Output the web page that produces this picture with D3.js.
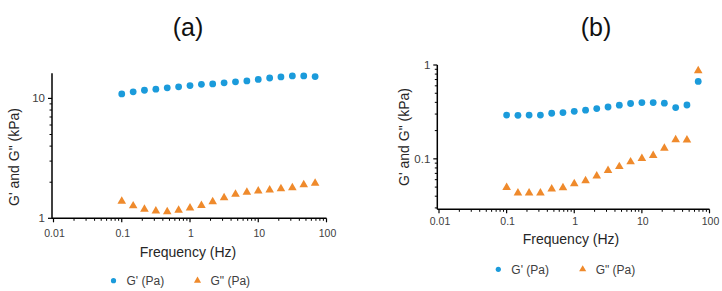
<!DOCTYPE html>
<html>
<head>
<meta charset="utf-8">
<script src="https://cdn.jsdelivr.net/npm/d3@7"></script>
<style>
  html, body { margin: 0; padding: 0; background: #fff; }
  svg { display: block; font-family: "Liberation Sans", Arial, sans-serif; }
</style>
</head>
<body>
<svg id="chart" width="722" height="291"></svg>
<script>
// ---- Data ----
const frequency = [0.1, 0.147, 0.215, 0.316, 0.464, 0.681, 1, 1.47, 2.15, 3.16, 4.64, 6.81, 10, 14.7, 21.5, 31.6, 46.4, 68.1];
const gPrimeA = [10.9, 11.35, 11.7, 11.95, 12.25, 12.5, 12.8, 13.1, 13.2, 13.5, 13.75, 14.0, 14.4, 14.8, 15.1, 15.4, 15.4, 15.2];
const gDoublePrimeA = [1.39, 1.27, 1.19, 1.15, 1.135, 1.166, 1.22, 1.28, 1.375, 1.485, 1.585, 1.65, 1.69, 1.72, 1.765, 1.8, 1.905, 1.96];
const gPrimeB = [0.293, 0.291, 0.293, 0.293, 0.306, 0.311, 0.321, 0.33, 0.343, 0.357, 0.373, 0.389, 0.398, 0.398, 0.392, 0.352, 0.375, 0.669];
const gDoublePrimeB = [0.0496, 0.0432, 0.0432, 0.0432, 0.0477, 0.0493, 0.0544, 0.0585, 0.0657, 0.075, 0.0827, 0.0929, 0.1008, 0.1085, 0.13, 0.16, 0.159, 0.869];
const xTickValues = [0.01, 0.1, 1, 10, 100];
const xTickLabels = ["0.01", "0.1", "1", "10", "100"];
const yTickValuesA = [1, 10];
const yTickLabelsA = ["1", "10"];
const yTickValuesB = [0.1, 1];
const yTickLabelsB = ["0.1", "1"];
const panelTitles = ["(a)", "(b)"];
const seriesNames = ["G' (Pa)", "G\" (Pa)"];
const xAxisTitle = "Frequency (Hz)";
const yAxisTitle = "G' and G\" (kPa)";

const blue = "#1b9bdb";
const orange = "#ef8a2c";

const svg = d3.select("#chart");

function minorTicks(lo, hi) {
  const out = [];
  const e0 = Math.floor(Math.log10(lo)), e1 = Math.ceil(Math.log10(hi));
  for (let e = e0; e <= e1; e++) {
    for (let k = 2; k <= 9; k++) {
      const v = k * Math.pow(10, e);
      if (v >= lo * 0.999 && v <= hi * 1.001) out.push(v);
    }
  }
  return out;
}

function panel(cfg) {
  const g = svg.append("g");
  const x = d3.scaleLog().domain([0.01, 100]).range(cfg.xRange);
  const y = d3.scaleLog().domain(cfg.yDomain).range(cfg.yRange);
  const x0 = cfg.axisX, yb = cfg.yRange[0], yt = cfg.yRange[1];

  // title
  g.append("text").attr("x", cfg.titleX).attr("y", cfg.titleY)
    .attr("text-anchor", "middle").attr("font-size", 25).attr("fill", "#111")
    .text(cfg.title);

  // x axis
  const xa = g.append("g").attr("transform", `translate(0,${yb})`);
  xa.append("line").attr("x1", x0).attr("x2", cfg.xRange[1]).attr("y1", 0).attr("y2", 0)
    .attr("stroke", "#000").attr("stroke-width", 1.5);
  xa.selectAll(".mn").data(minorTicks(0.01, 100).filter(v => x(v) <= cfg.xRange[1] + 0.5)).enter().append("line")
    .attr("x1", d => x(d)).attr("x2", d => x(d)).attr("y1", 0).attr("y2", 2.5)
    .attr("stroke", "#000").attr("stroke-width", 1);
  xa.selectAll(".mj").data(xTickValues).enter().append("line")
    .attr("x1", d => x(d)).attr("x2", d => x(d)).attr("y1", 0).attr("y2", 4)
    .attr("stroke", "#000").attr("stroke-width", 1.2);
  xa.selectAll(".lb").data(xTickValues).enter().append("text")
    .attr("x", d => x(d) + 1).attr("y", cfg.xLabelDy)
    .attr("text-anchor", "middle").attr("font-size", 10.5).attr("fill", "#404040")
    .text((d, i) => xTickLabels[i]);

  // y axis
  const ya = g.append("g").attr("transform", `translate(${x0},0)`);
  ya.append("line").attr("x1", 0).attr("x2", 0).attr("y1", yb).attr("y2", yt)
    .attr("stroke", "#000").attr("stroke-width", 1.5);
  ya.selectAll(".mn").data(minorTicks(cfg.yDomain[0], cfg.yDomain[1]).filter(v => !cfg.yTicks.includes(v))).enter().append("line")
    .attr("y1", d => y(d)).attr("y2", d => y(d)).attr("x1", 0).attr("x2", -2.5)
    .attr("stroke", "#000").attr("stroke-width", 1);
  ya.selectAll(".mj").data(cfg.yTicks).enter().append("line")
    .attr("y1", d => y(d)).attr("y2", d => y(d)).attr("x1", 0).attr("x2", -4)
    .attr("stroke", "#000").attr("stroke-width", 1.2);
  ya.selectAll(".lb").data(cfg.yTicks).enter().append("text")
    .attr("x", -7).attr("y", d => y(d)).attr("dy", "0.35em")
    .attr("text-anchor", "end").attr("font-size", 11.5).attr("fill", "#404040")
    .text((d, i) => cfg.yLabels[i]);

  // axis titles
  g.append("text").attr("x", cfg.xTitleX).attr("y", cfg.xTitleY)
    .attr("text-anchor", "middle").attr("font-size", 14).attr("fill", "#262626")
    .text(xAxisTitle);
  g.append("text").attr("transform", `translate(${cfg.yTitleX},${cfg.yTitleY}) rotate(-90)`)
    .attr("text-anchor", "middle").attr("font-size", 14).attr("fill", "#262626")
    .text(yAxisTitle);

  // data
  const tri = d3.symbol().type(d3.symbolTriangle).size(32);
  g.selectAll(".gpp").data(cfg.gpp).enter().append("path")
    .attr("d", tri)
    .attr("transform", (d, i) => `translate(${x(frequency[i])},${y(d)})`)
    .attr("fill", orange);
  g.selectAll(".gp").data(cfg.gp).enter().append("circle")
    .attr("cx", (d, i) => x(frequency[i])).attr("cy", d => y(d)).attr("r", 3.4)
    .attr("fill", blue);

  // legend
  const lg = g.append("g").attr("transform", `translate(0,${cfg.legY})`);
  lg.append("circle").attr("cx", cfg.legX1).attr("cy", 0).attr("r", 2.6).attr("fill", blue);
  lg.append("text").attr("x", cfg.legX1 + 13).attr("y", 0).attr("dy", "0.35em")
    .attr("font-size", 12).attr("fill", "#404040").text(seriesNames[0]);
  lg.append("path").attr("d", d3.symbol().type(d3.symbolTriangle).size(22))
    .attr("transform", `translate(${cfg.legX2},0)`).attr("fill", orange);
  lg.append("text").attr("x", cfg.legX2 + 13).attr("y", 0).attr("dy", "0.35em")
    .attr("font-size", 12).attr("fill", "#404040").text(seriesNames[1]);
}

panel({
  title: panelTitles[0], titleX: 188, titleY: 36,
  xRange: [53.5, 326.5], axisX: 52,
  yDomain: [1, 16.2], yRange: [218.3, 73.3], yTicks: yTickValuesA, yLabels: yTickLabelsA,
  xLabelDy: 19, xTitleX: 188, xTitleY: 256.5, yTitleX: 19, yTitleY: 157,
  gp: gPrimeA, gpp: gDoublePrimeA,
  legY: 280.7, legX1: 113.5, legX2: 197.5
});

panel({
  title: panelTitles[1], titleX: 596, titleY: 36,
  xRange: [439, 709.5], axisX: 437.3,
  yDomain: [0.029, 1], yRange: [209.3, 65], yTicks: yTickValuesB, yLabels: yTickLabelsB,
  xLabelDy: 16, xTitleX: 571, xTitleY: 244, yTitleX: 409, yTitleY: 137,
  gp: gPrimeB, gpp: gDoublePrimeB,
  legY: 269.3, legX1: 498.3, legX2: 582.7
});
</script>
</body>
</html>
